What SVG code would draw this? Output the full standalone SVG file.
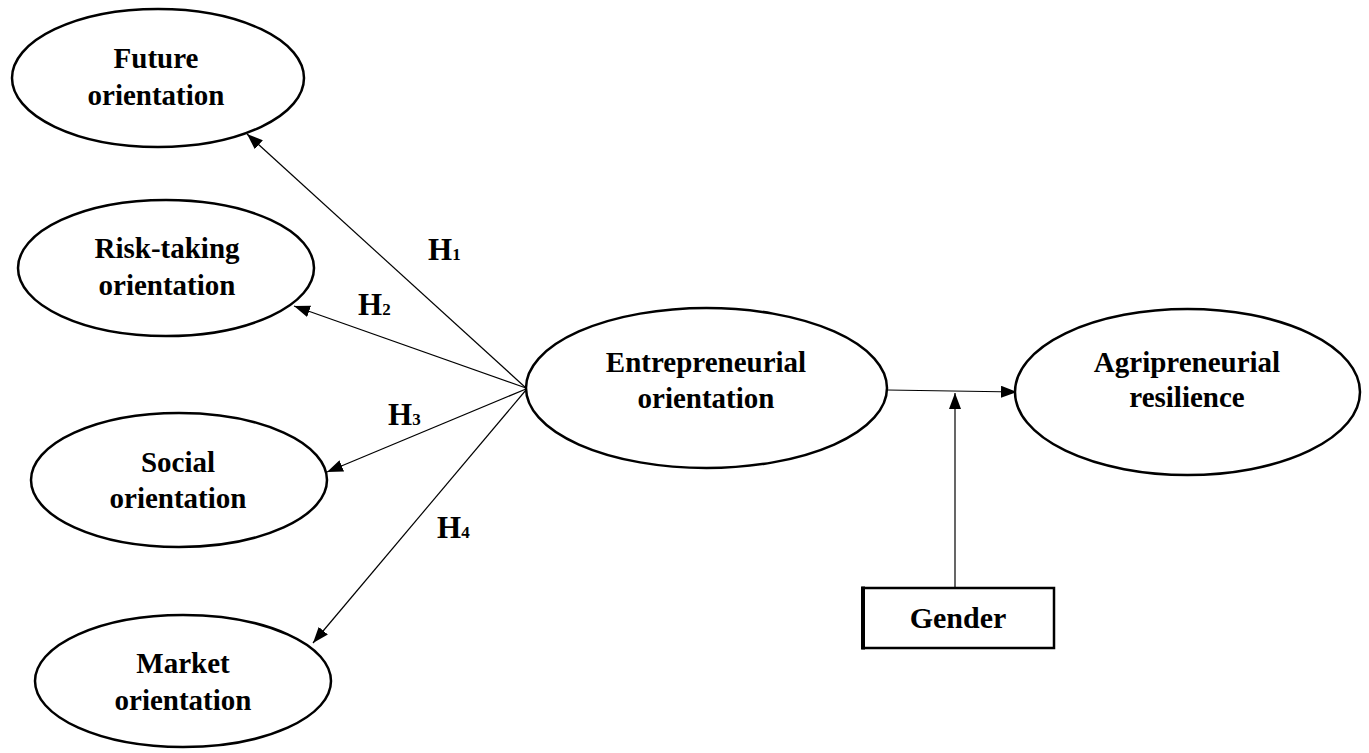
<svg xmlns="http://www.w3.org/2000/svg" width="1369" height="753" viewBox="0 0 1369 753">
<style>
.node{fill:#fff;stroke:#000;stroke-width:2.5}
.t{font-family:"Liberation Serif","Times New Roman",serif;font-weight:bold;font-size:29px;fill:#000;text-anchor:middle}
.h{font-family:"Liberation Serif","Times New Roman",serif;font-weight:bold;font-size:31px;fill:#000}
.sub{font-size:17px}
.c{stroke:#000;stroke-width:1.2;fill:none}
</style>
<defs>
<marker id="arr" viewBox="0 0 16 12" refX="16" refY="6" markerWidth="16" markerHeight="12" markerUnits="userSpaceOnUse" orient="auto">
<path d="M0,0 L16,6 L0,12 z" fill="#000"/>
</marker>
</defs>
<rect width="1369" height="753" fill="#fff"/>
<g id="connectors">
<path class="c" d="M526,388 L247,134" marker-end="url(#arr)"/>
<path class="c" d="M526,388 L294,306" marker-end="url(#arr)"/>
<path class="c" d="M526,389 L327,472" marker-end="url(#arr)"/>
<path class="c" d="M526,390 L313,643" marker-end="url(#arr)"/>
<path class="c" d="M887,390 L1017,392" stroke-width="1.5" marker-end="url(#arr)"/>
<path class="c" d="M955,588 L955,393" stroke-width="1.5" marker-end="url(#arr)"/>
</g>
<g id="labels">
<text class="h" x="428" y="260">H<tspan class="sub">1</tspan></text>
<text class="h" x="358" y="315">H<tspan class="sub">2</tspan></text>
<text class="h" x="388" y="425">H<tspan class="sub">3</tspan></text>
<text class="h" x="437" y="538">H<tspan class="sub">4</tspan></text>
</g>
<g id="future">
<ellipse class="node" cx="158" cy="78" rx="146" ry="69"/>
<text class="t" x="156" y="68">Future</text>
<text class="t" x="156" y="105">orientation</text>
</g>
<g id="risk">
<ellipse class="node" cx="166" cy="268" rx="148" ry="68"/>
<text class="t" x="167" y="258">Risk-taking</text>
<text class="t" x="167" y="295">orientation</text>
</g>
<g id="social">
<ellipse class="node" cx="179" cy="480" rx="148" ry="67"/>
<text class="t" x="178" y="472">Social</text>
<text class="t" x="178" y="508">orientation</text>
</g>
<g id="market">
<ellipse class="node" cx="183" cy="681" rx="148" ry="66"/>
<text class="t" x="183" y="673">Market</text>
<text class="t" x="183" y="710">orientation</text>
</g>
<g id="entrepreneurial">
<ellipse class="node" cx="706.5" cy="388" rx="180.5" ry="80"/>
<text class="t" x="706" y="372">Entrepreneurial</text>
<text class="t" x="706" y="408">orientation</text>
</g>
<g id="agripreneurial">
<ellipse class="node" cx="1187.5" cy="392" rx="172.5" ry="83"/>
<text class="t" x="1187" y="372">Agripreneurial</text>
<text class="t" x="1187" y="407">resilience</text>
</g>
<g id="gender">
<rect class="node" x="863" y="588" width="191" height="60"/>
<line x1="863" y1="586.5" x2="863" y2="649.5" stroke="#000" stroke-width="4"/>
<text class="t" x="958" y="628" style="font-size:30px">Gender</text>
</g>
</svg>
